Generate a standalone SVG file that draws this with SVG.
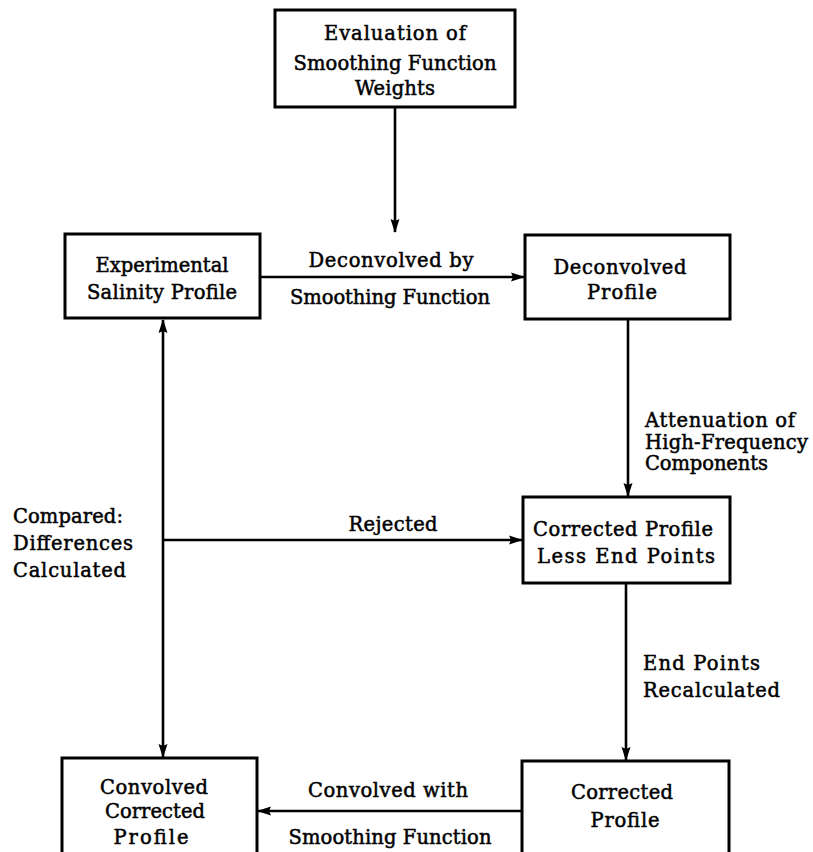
<svg xmlns="http://www.w3.org/2000/svg" width="813" height="852" viewBox="0 0 813 852">
<style>
.box{fill:#fff;stroke:#000;stroke-width:3}
.ln{fill:none;stroke:#000;stroke-width:2.6}
text{font-family:"DejaVu Serif","Liberation Serif",serif;font-size:19.5px;fill:#000;stroke:#000;stroke-width:0.5}
.c{text-anchor:middle}
</style>
<defs>
<marker id="ah" viewBox="0 0 14 10" refX="13" refY="5" markerWidth="14" markerHeight="10" markerUnits="userSpaceOnUse" orient="auto-start-reverse">
<path d="M0,0.5 L14,5 L0,9.5 L2,5 Z" fill="#000"/>
</marker>
</defs>
<rect width="813" height="852" fill="#fff"/>
<g id="connectors">
<line class="ln" x1="395" y1="107" x2="395" y2="232" marker-end="url(#ah)"/>
<line class="ln" x1="260" y1="277" x2="524" y2="277" marker-end="url(#ah)"/>
<line class="ln" x1="628" y1="319" x2="628" y2="496" marker-end="url(#ah)"/>
<line class="ln" x1="163" y1="320" x2="163" y2="757" marker-start="url(#ah)" marker-end="url(#ah)"/>
<line class="ln" x1="163" y1="540" x2="522" y2="540" marker-end="url(#ah)"/>
<line class="ln" x1="626" y1="583" x2="626" y2="760" marker-end="url(#ah)"/>
<line class="ln" x1="522" y1="811" x2="258" y2="811" marker-end="url(#ah)"/>
</g>
<g id="weights">
<rect class="box" x="275" y="10" width="240" height="97"/>
<text class="c" x="395" y="40" textLength="142" lengthAdjust="spacing">Evaluation of</text>
<text class="c" x="395" y="70" textLength="203" lengthAdjust="spacing">Smoothing Function</text>
<text class="c" x="395" y="95" textLength="80" lengthAdjust="spacing">Weights</text>
</g>
<g id="experimental">
<rect class="box" x="65" y="234" width="195" height="84"/>
<text class="c" x="162" y="272" textLength="133" lengthAdjust="spacing">Experimental</text>
<text class="c" x="162" y="299" textLength="150" lengthAdjust="spacing">Salinity Profile</text>
</g>
<g id="deconvolved">
<rect class="box" x="525" y="235" width="205" height="84"/>
<text class="c" x="620" y="274" textLength="133" lengthAdjust="spacing">Deconvolved</text>
<text class="c" x="622" y="299" textLength="70" lengthAdjust="spacing">Profile</text>
</g>
<g id="less-end-points">
<rect class="box" x="523" y="497" width="207" height="86"/>
<text class="c" x="623" y="536" textLength="180" lengthAdjust="spacing">Corrected Profile</text>
<text class="c" x="626" y="563" textLength="178" lengthAdjust="spacing">Less End Points</text>
</g>
<g id="convolved">
<rect class="box" x="62" y="758" width="195" height="110"/>
<text class="c" x="154" y="794" textLength="108" lengthAdjust="spacing">Convolved</text>
<text class="c" x="155" y="818" textLength="100" lengthAdjust="spacing">Corrected</text>
<text class="c" x="151" y="844" textLength="75" lengthAdjust="spacing">Profile</text>
</g>
<g id="corrected">
<rect class="box" x="522" y="761" width="207" height="110"/>
<text class="c" x="622" y="799" textLength="102" lengthAdjust="spacing">Corrected</text>
<text class="c" x="625" y="827" textLength="69" lengthAdjust="spacing">Profile</text>
</g>
<g id="labels">
<text class="c" x="391" y="267" textLength="165" lengthAdjust="spacing">Deconvolved by</text>
<text class="c" x="390" y="304" textLength="200" lengthAdjust="spacing">Smoothing Function</text>
<text x="645" y="427" textLength="150" lengthAdjust="spacing">Attenuation of</text>
<text x="645" y="449" textLength="163" lengthAdjust="spacing">High-Frequency</text>
<text x="645" y="470" textLength="123" lengthAdjust="spacing">Components</text>
<text class="c" x="393" y="531" textLength="89" lengthAdjust="spacing">Rejected</text>
<text x="13" y="523" textLength="110" lengthAdjust="spacing">Compared:</text>
<text x="13" y="550" textLength="120" lengthAdjust="spacing">Differences</text>
<text x="13" y="577" textLength="113" lengthAdjust="spacing">Calculated</text>
<text x="643" y="670" textLength="117" lengthAdjust="spacing">End Points</text>
<text x="643" y="697" textLength="137" lengthAdjust="spacing">Recalculated</text>
<text class="c" x="388" y="797" textLength="160" lengthAdjust="spacing">Convolved with</text>
<text class="c" x="390" y="844" textLength="203" lengthAdjust="spacing">Smoothing Function</text>
</g>
</svg>
